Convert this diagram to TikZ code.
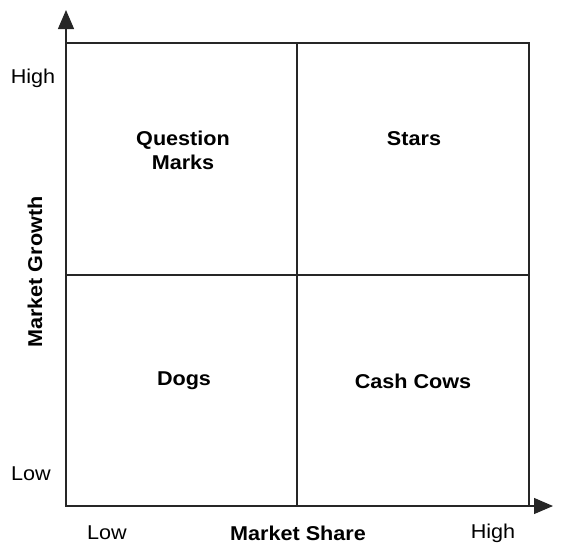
\documentclass[tikz,border=0pt]{standalone}
\usepackage{fontspec}
\setmainfont[FakeStretch=1.08]{Liberation Sans}
\usetikzlibrary{arrows.meta}

\tikzset{
    axislabel/.style={font=\fontsize{20}{24}\selectfont},
    axistitle/.style={font=\fontsize{20}{24}\selectfont\bfseries},
    quadlabel/.style={font=\fontsize{20}{24}\selectfont\bfseries, align=center},
}

\begin{document}
\begin{tikzpicture}[x=1pt, y=-1pt, line width=1.2pt, draw=black!85]
        \useasboundingbox (0,0) rectangle (567,544);

        \coordinate (origin) at (66,506);
        \coordinate (ytip) at (66,10);
        \coordinate (xtip) at (553,506);
        \coordinate (topmid) at (297,43);
        \coordinate (botmid) at (297,506);
        \coordinate (leftmid) at (66,275);
        \coordinate (rightmid) at (529,275);

        \draw (66,43) rectangle (529,506);
        \draw (topmid) -- (botmid);
        \draw (leftmid) -- (rightmid);

        \draw[-{Triangle[length=19pt, width=16pt]}] (origin) -- (ytip);
        \draw[-{Triangle[length=19pt, width=16pt]}] (origin) -- (xtip);

        \node[quadlabel] (qmarks) at (183,150) {Question\\Marks};
        \node[quadlabel] (stars) at (414,139) {Stars};
        \node[quadlabel] (dogs) at (184,381) {Dogs};
        \node[quadlabel] (cows) at (413,381) {Cash Cows};

        \node[axislabel] (yhigh) at (33,78) {High};
        \node[axislabel] (ylow) at (31,474) {Low};
        \node[axislabel] (xlow) at (107,533) {Low};
        \node[axislabel] (xhigh) at (493,533) {High};
        \node[axistitle] (xtitle) at (298,533) {Market Share};
        \node[axistitle, rotate=90] (ytitle) at (35,272) {Market Growth};
    \end{tikzpicture}
\end{document}
